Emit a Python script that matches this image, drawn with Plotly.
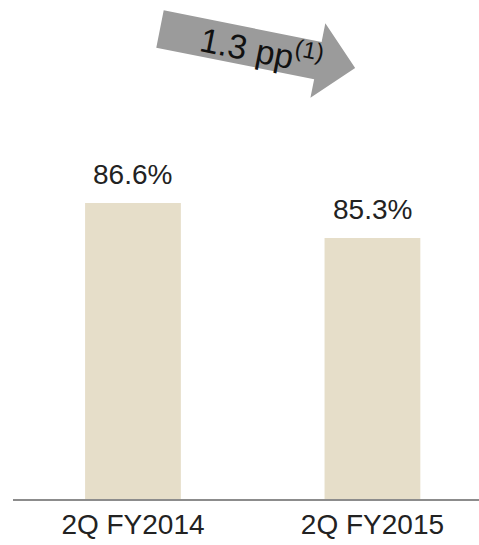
import math
import plotly.graph_objects as go

categories = ["2Q FY2014", "2Q FY2015"]
values = [86.6, 85.3]
value_labels = ["86.6%", "85.3%"]
arrow_label = "1.3 pp<sup>(1)</sup>"

W, H = 479, 545
ML, MR, MT, MB = 13, 0, 0, 46
PW, PH = W - ML - MR, H - MT - MB

fig = go.Figure()
fig.add_trace(go.Bar(
    x=categories, y=values, width=0.4,
    marker=dict(color="#E6DEC9", line=dict(width=0)),
    hoverinfo="skip",
))

for c, v, t in zip(categories, values, value_labels):
    fig.add_annotation(x=c, y=v, text=t, showarrow=False, yanchor="bottom",
                       yshift=11, font=dict(size=28, color="#222222",
                                            family="Liberation Sans, Arial"))

# arrow geometry in pixel frame (tail center, angle, length, widths)
tail = (160.0, 29.0)
ang = math.radians(11.3)
length, body_hw, head_hw, head_len = 199.0, 19.0, 38.0, 38.0
ux, uy = math.cos(ang), math.sin(ang)
nx, ny = -uy, ux

def pt(s, n):
    X = tail[0] + ux * s + nx * n
    Y = tail[1] + uy * s + ny * n
    return ((X - ML) / PW, (MT + PH - Y) / PH)

poly = [pt(0, -body_hw), pt(length - head_len, -body_hw), pt(length - head_len, -head_hw),
        pt(length, 0), pt(length - head_len, head_hw), pt(length - head_len, body_hw),
        pt(0, body_hw)]
path = "M " + " L ".join(f"{a:.5f},{b:.5f}" for a, b in poly) + " Z"
fig.add_shape(type="path", path=path, xref="paper", yref="paper",
              fillcolor="#9B9B9B", line=dict(width=0), layer="above")

cx, cy = pt(104, -1)
fig.add_annotation(x=cx, y=cy, xref="paper", yref="paper", text=arrow_label,
                   textangle=11.3, showarrow=False, xanchor="center", yanchor="middle",
                   font=dict(size=34, color="#111111", family="Liberation Sans, Arial"))

fig.update_layout(
    width=W, height=H, margin=dict(l=ML, r=MR, t=MT, b=MB),
    paper_bgcolor="white", plot_bgcolor="white", showlegend=False,
    xaxis=dict(range=[-0.501, 1.445], showline=True, linecolor="#8C8C8C", linewidth=1.5,
               ticks="", showgrid=False, zeroline=False,
               tickfont=dict(size=28, color="#222222", family="Liberation Sans, Arial")),
    yaxis=dict(range=[75.6, 94.15], visible=False, showgrid=False, zeroline=False),
)
fig.write_html("out.html")
